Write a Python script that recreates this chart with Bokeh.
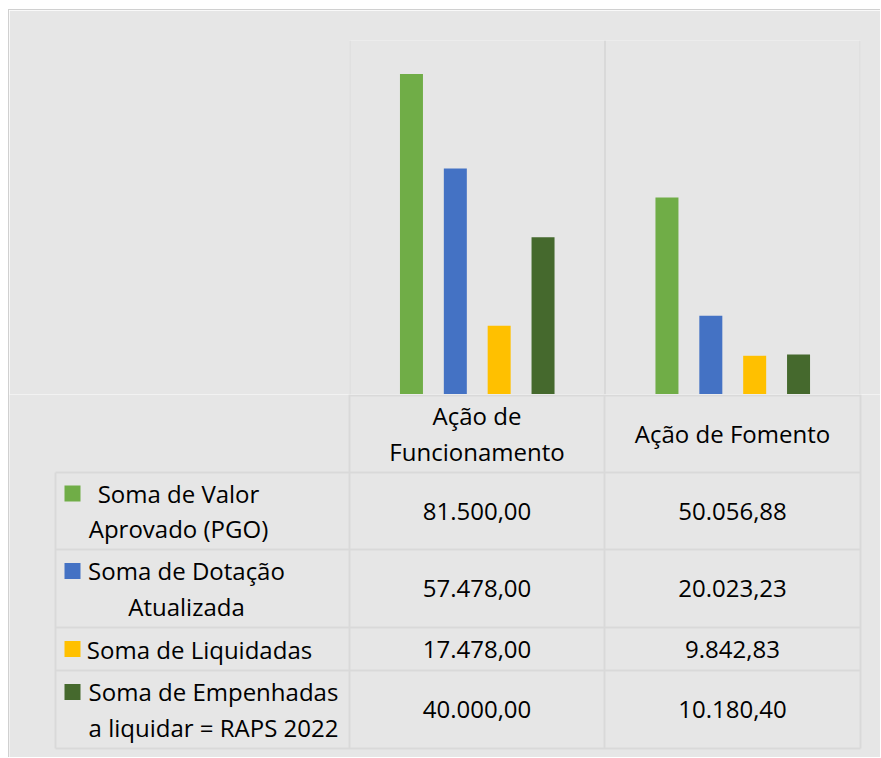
from bokeh.plotting import figure
from bokeh.models import Range1d, FactorRange, Span, ColumnDataSource
from bokeh.transform import dodge
from bokeh.layouts import column
from bokeh.embed import file_html
from bokeh.resources import INLINE
from bokeh.core.properties import value

# ---------------- data ----------------
categories = ["Ação de Funcionamento", "Ação de Fomento"]
category_labels = ["Ação de\nFuncionamento", "Ação de Fomento"]
series_labels = [
    "Soma de Valor\nAprovado (PGO)",
    "Soma de Dotação\nAtualizada",
    "Soma de Liquidadas",
    "Soma de Empenhadas\na liquidar = RAPS 2022",
]
valor_aprovado = [81500.00, 50056.88]
dotacao_atualizada = [57478.00, 20023.23]
liquidadas = [17478.00, 9842.83]
empenhadas_a_liquidar = [40000.00, 10180.40]
y_max = 90000

series_values = [valor_aprovado, dotacao_atualizada, liquidadas, empenhadas_a_liquidar]

# ---------------- style ----------------
colors = ["#70AD47", "#4472C4", "#FFC000", "#45692D"]
BG = "#e6e6e6"
GRID = "#d9d9d9"
EDGE = "#d0d0d0"
FONT = "Open Sans"
FS = "24px"
LH = 1.07
offsets = [-0.2575, -0.0858, 0.0858, 0.2575]
bar_width = 0.09


def fmt_br(v):
    s = f"{v:,.2f}"
    return s.replace(",", "X").replace(".", ",").replace("X", ".")


# page position of the chart box (outer margin + 1px edge line)
MX, MY = 8, 9
OX, OY0 = MX + 1, MY + 1
W = 871
H1 = 394 - OY0

# ---------------- bar chart ----------------
p1 = figure(width=W, height=H1,
            x_range=FactorRange(*categories, range_padding=0, factor_padding=0),
            y_range=Range1d(0, y_max),
            x_axis_type=None, y_axis_type=None,
            output_backend="svg", toolbar_location=None,
            min_border_left=349 - OX, min_border_right=W - (860 - OX),
            min_border_top=40 - OY0, min_border_bottom=0)
p1.frame_align = False
p1.background_fill_color = BG
p1.border_fill_color = BG
p1.outline_line_color = None
p1.grid.visible = False

src = ColumnDataSource(dict(cat=categories,
                            **{f"s{i}": vals for i, vals in enumerate(series_values)}))
for i, (off, c) in enumerate(zip(offsets, colors)):
    p1.vbar(x=dodge("cat", off, range=p1.x_range), top=f"s{i}", width=bar_width,
            source=src, fill_color=c, line_color=None)

for loc in range(len(categories) + 1):
    p1.add_layout(Span(location=loc, dimension="height", line_color=GRID, line_width=2))

# ---------------- data table ----------------
OY = 394
H2 = 757 - OY
p2 = figure(width=W, height=H2, x_range=Range1d(0, W), y_range=Range1d(H2, 0),
            x_axis_type=None, y_axis_type=None,
            output_backend="svg", toolbar_location=None, min_border=0)
p2.frame_align = False
p2.background_fill_color = BG
p2.border_fill_color = BG
p2.outline_line_color = None
p2.grid.visible = False

col_edges = [55, 349, 604, 860]
row_edges = [394, 472, 549, 627, 670, 748]
line_step = 35

x0s, y0s, x1s, y1s = [], [], [], []
for j, ry in enumerate(row_edges):
    left = col_edges[1] if j == 0 else col_edges[0]
    yy = ry - OY + (1 if j == 0 else 0)
    x0s.append(left - OX); x1s.append(col_edges[-1] - OX)
    y0s.append(yy); y1s.append(yy)
for k, cx in enumerate(col_edges):
    top = row_edges[1] if k == 0 else row_edges[0]
    x0s.append(cx - OX); x1s.append(cx - OX)
    y0s.append(top - OY); y1s.append(row_edges[-1] - OY)
p2.segment(x0=x0s, y0=y0s, x1=x1s, y1=y1s, line_color=GRID, line_width=2)

text_kw = dict(text_font=value(FONT), text_font_size=FS, text_color="#000000",
               text_align="center", text_baseline="middle", text_line_height=LH)

col_centers = [(col_edges[k] + col_edges[k + 1]) / 2 - OX for k in range(1, len(col_edges) - 1)]
header_mid = (row_edges[0] + row_edges[1]) / 2 - OY
p2.text(x=col_centers, y=[header_mid] * len(col_centers), text=category_labels, **text_kw)

row_mids = [(row_edges[j] + row_edges[j + 1]) / 2 - OY for j in range(1, len(row_edges) - 1)]
label_centers = [178, 186, 199, 213]
p2.text(x=[c - OX for c in label_centers], y=row_mids, text=series_labels, **text_kw)

key_y = [m - (lab.count("\n")) * line_step / 2 for m, lab in zip(row_mids, series_labels)]
p2.scatter(x=[72 - OX] * len(series_labels), y=key_y, marker="square", size=16,
           fill_color=colors, line_color=None)

vx, vy, vt = [], [], []
for j, vals in enumerate(series_values):
    for k, v in enumerate(vals):
        vx.append(col_centers[k]); vy.append(row_mids[j]); vt.append(fmt_br(v))
p2.text(x=vx, y=vy, text=vt, **text_kw)

layout = column(p1, p2, spacing=0, margin=(MY, 0, 0, MX),
                styles={"border-top": f"1px solid {EDGE}", "border-left": f"1px solid {EDGE}"})

open("out.html", "w").write(file_html(layout, INLINE))
